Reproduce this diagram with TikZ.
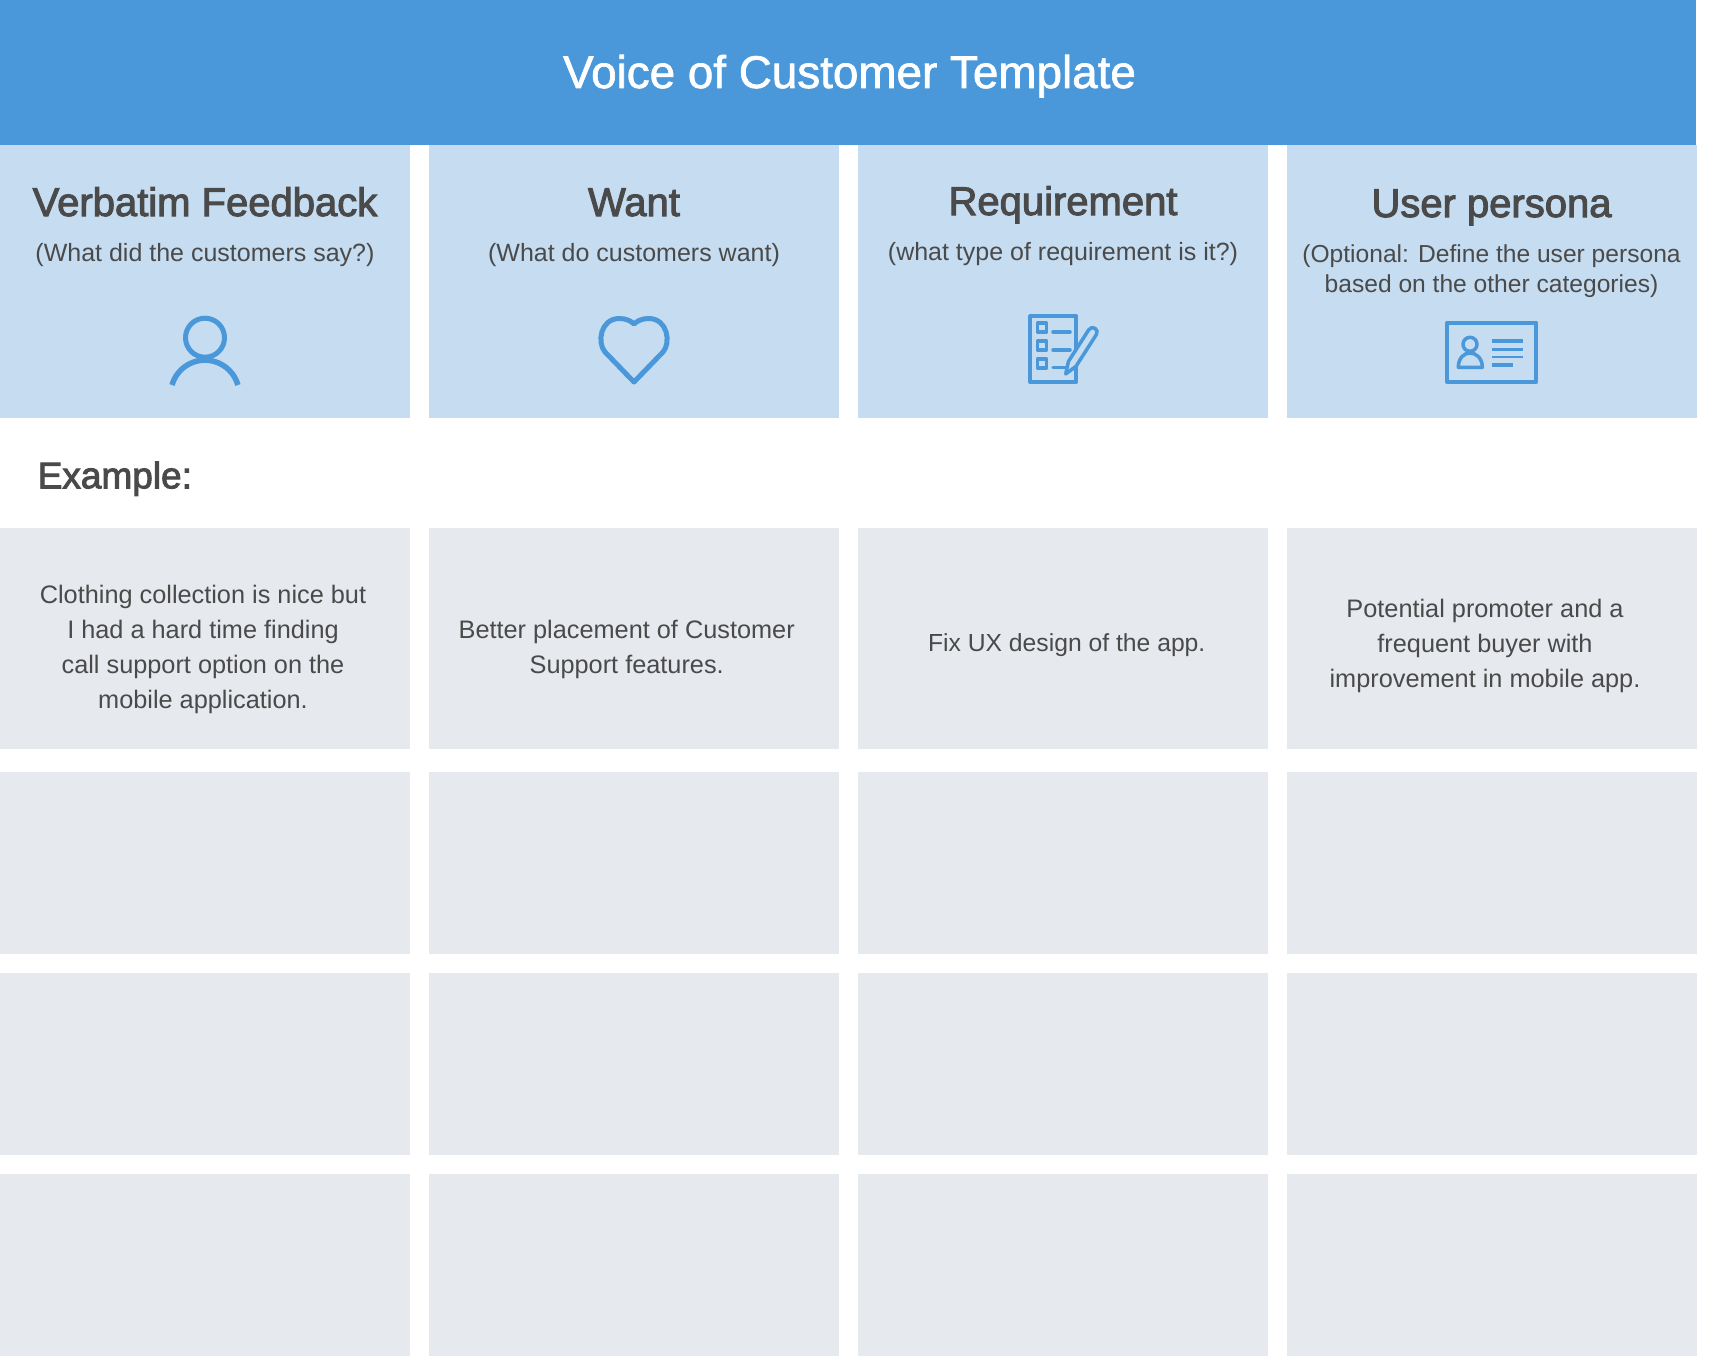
\documentclass[tikz,border=0pt]{standalone}
\usepackage{fontspec}
\setmainfont{Liberation Sans}
\newfontfamily\headfont{Liberation Sans}[FakeBold=2.5]
\newfontfamily\bannerfont{Liberation Sans}[FakeBold=1.5]
\usepackage{xcolor}

\definecolor{bannerBlue}{HTML}{4A98DA}
\definecolor{cardBlue}{HTML}{C5DCF1}
\definecolor{cellGrey}{HTML}{E6E9EE}
\definecolor{inkGrey}{HTML}{4A4A4A}

\tikzset{
	banner/.style={fill=bannerBlue, minimum width=1696pt, minimum height=145pt, anchor=north west, inner sep=0pt},
	card/.style={fill=cardBlue, minimum width=410pt, minimum height=273pt, anchor=north west, inner sep=0pt},
	cell/.style={fill=cellGrey, minimum width=410pt, anchor=north west, inner sep=0pt},
	title/.style={text=white, anchor=base, inner sep=0pt, font=\bannerfont\fontsize{45.8}{52}\selectfont},
	heading/.style={text=inkGrey, anchor=base, inner sep=0pt, font=\headfont\fontsize{40}{46}\selectfont},
	label/.style={text=inkGrey, anchor=base west, inner sep=0pt, font=\headfont\fontsize{37}{42}\selectfont},
	hint/.style={text=inkGrey, align=center, inner sep=0pt, font=\fontsize{25}{30}\selectfont},
	body/.style={text=inkGrey, align=center, inner sep=0pt, font=\fontsize{25.3}{35}\selectfont},
	glyph/.style={draw=bannerBlue, line width=5pt, line cap=round, line join=round},
	thinGlyph/.style={draw=bannerBlue, line width=4pt, line cap=round, line join=round}
}

\begin{document}
\begin{tikzpicture}[x=1pt, y=-1pt]
	\def\colA{0};
	\def\colB{429};
	\def\colC{858};
	\def\colD{1287};
	\def\rowA{528};
	\def\rowB{772};
	\def\rowC{973};
	\def\rowD{1174};

	\useasboundingbox (0,0) rectangle (1712,1370);

	\node [banner] (banner) at (0,0) {};
	\node [title] (bannerTitle) at (849.5,88) {Voice of Customer Template};

	\begin{scope}
		\node [card] (cardVerbatim) at (\colA,145) {};
		\node [card] (cardWant) at (\colB,145) {};
		\node [card] (cardRequirement) at (\colC,145) {};
		\node [card] (cardPersona) at (\colD,145) {};
	\end{scope}

	\begin{scope}
		\node [heading] (headVerbatim) at (205,216) {Verbatim Feedback};
		\node [heading] (headWant) at (634,216) {Want};
		\node [heading] (headRequirement) at (1063,215) {Requirement};
		\node [heading] (headPersona) at (1491.5,217) {User persona};
		\node [hint, anchor=base] (hintVerbatim) at (205,261) {(What did the customers say?)};
		\node [hint, anchor=base] (hintWant) at (634,261) {(What do customers want)};
		\node [hint, anchor=base] (hintRequirement) at (1063,260.5) {(what type of requirement is it?)};
		\node [hint, font=\fontsize{24.6}{30}\selectfont] (hintPersona) at (1491.5,271.5) {(Optional: Define the user persona\\based on the other categories)};
	\end{scope}

	\begin{scope}
		\draw [glyph] (205,337.7) circle (19.5);
		\draw [glyph, line width=5.5pt, line cap=butt] (172,385) arc [start angle=196, end angle=344, radius=34.3];
	\end{scope}

	\begin{scope}
		\draw [glyph] (634,382) -- (605,352) .. controls (597,343) and (600,318.5) .. (619.5,318.5) .. controls (626,318.5) and (631,321) .. (634,324) .. controls (637,321) and (642,318.5) .. (648.5,318.5) .. controls (668,318.5) and (671,343) .. (663,352) -- cycle;
	\end{scope}

	\begin{scope}
		\draw [thinGlyph] (1030.3,316.3) rectangle (1076.3,382);
		\draw [thinGlyph, line width=3.5pt] (1037.5,323) rectangle (1046.5,332);
		\draw [thinGlyph, line width=3.5pt] (1037.5,341) rectangle (1046.5,350);
		\draw [thinGlyph, line width=3.5pt] (1037.5,359) rectangle (1046.5,368);
		\draw [thinGlyph, line width=3.5pt] (1053,332) -- (1070,332);
		\draw [thinGlyph, line width=3.5pt] (1053,350) -- (1070,350);
		\draw [thinGlyph, line width=3.5pt] (1053,367.7) -- (1066,367.7);
		\draw [thinGlyph, line width=3.5pt, fill=cardBlue] (1065.7,374) -- (1068.4,361.5) -- (1088.8,329.7) .. controls (1092,324.7) and (1099.6,329.5) .. (1096.4,334.5) -- (1076,366.3) -- cycle;
	\end{scope}

	\begin{scope}
		\draw [thinGlyph] (1447,322.7) rectangle (1536.3,382);
		\draw [thinGlyph, line width=3.5pt] (1470,344.3) circle (7);
		\draw [thinGlyph, line width=3.5pt] (1458.3,367.3) .. controls (1458.3,358) and (1464,353) .. (1470,353) .. controls (1476,353) and (1482.3,358) .. (1482.3,367.3) -- cycle;
		\draw [thinGlyph, line width=4pt, line cap=butt] (1491.7,341.3) -- (1522.7,341.3);
		\draw [thinGlyph, line width=3pt, line cap=butt] (1491.7,349.7) -- (1522.7,349.7);
		\draw [thinGlyph, line width=2pt, line cap=butt] (1491.7,357) -- (1522.7,357);
		\draw [thinGlyph, line width=4pt, line cap=butt] (1491.7,365.3) -- (1512.7,365.3);
	\end{scope}

	\node [label] (exampleLabel) at (37.5,488.3) {Example:};

	\begin{scope}[every node/.append style={minimum height=221pt}]
		\node [cell] (cellVerbatimA) at (\colA,\rowA) {};
		\node [cell] (cellWantA) at (\colB,\rowA) {};
		\node [cell] (cellRequirementA) at (\colC,\rowA) {};
		\node [cell] (cellPersonaA) at (\colD,\rowA) {};
	\end{scope}

	\begin{scope}[every node/.append style={minimum height=182pt}]
		\node [cell] (cellVerbatimB) at (\colA,\rowB) {};
		\node [cell] (cellWantB) at (\colB,\rowB) {};
		\node [cell] (cellRequirementB) at (\colC,\rowB) {};
		\node [cell] (cellPersonaB) at (\colD,\rowB) {};
		\node [cell] (cellVerbatimC) at (\colA,\rowC) {};
		\node [cell] (cellWantC) at (\colB,\rowC) {};
		\node [cell] (cellRequirementC) at (\colC,\rowC) {};
		\node [cell] (cellPersonaC) at (\colD,\rowC) {};
		\node [cell] (cellVerbatimD) at (\colA,\rowD) {};
		\node [cell] (cellWantD) at (\colB,\rowD) {};
		\node [cell] (cellRequirementD) at (\colC,\rowD) {};
		\node [cell] (cellPersonaD) at (\colD,\rowD) {};
	\end{scope}

	\begin{scope}
		\node [body] (textVerbatim) at (203,649) {Clothing collection is nice but\\I had a hard time finding\\call support option on the\\mobile application.};
		\node [body] (textWant) at (626.7,649) {Better placement of Customer\\Support features.};
		\node [body, anchor=base, font=\fontsize{24.7}{35}\selectfont] (textRequirement) at (1066.7,651) {Fix UX design of the app.};
		\node [body] (textPersona) at (1485,645.6) {Potential promoter and a\\frequent buyer with\\improvement in mobile app.};
	\end{scope}
\end{tikzpicture}
\end{document}
